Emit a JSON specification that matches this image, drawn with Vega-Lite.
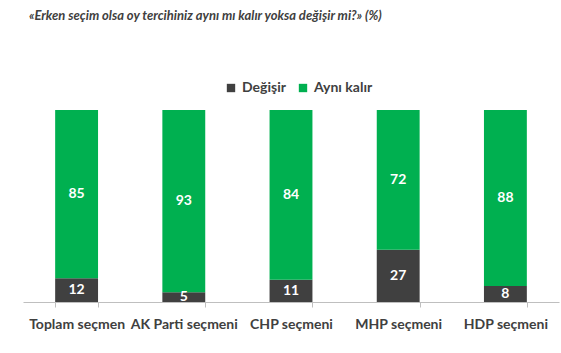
{
  "$schema": "https://vega.github.io/schema/vega-lite/v6.json",
  "width": 536,
  "height": 192,
  "padding": {"left": 23, "right": 2, "top": 10, "bottom": 5},
  "background": "white",
  "title": {
    "text": "«Erken seçim olsa oy tercihiniz aynı mı kalır yoksa değişir mi?» (%)",
    "anchor": "start",
    "dx": 6,
    "font": "Lato",
    "fontSize": 13,
    "fontStyle": "italic",
    "fontWeight": "bold",
    "color": "#404040",
    "offset": 58
  },
  "config": {"view": {"stroke": null}},
  "data": {
    "values": [
      {"segment": "Toplam seçmen", "series": "Değişir", "value": 12},
      {"segment": "Toplam seçmen", "series": "Aynı kalır", "value": 85},
      {"segment": "AK Parti seçmeni", "series": "Değişir", "value": 5},
      {"segment": "AK Parti seçmeni", "series": "Aynı kalır", "value": 93},
      {"segment": "CHP seçmeni", "series": "Değişir", "value": 11},
      {"segment": "CHP seçmeni", "series": "Aynı kalır", "value": 84},
      {"segment": "MHP seçmeni", "series": "Değişir", "value": 27},
      {"segment": "MHP seçmeni", "series": "Aynı kalır", "value": 72},
      {"segment": "HDP seçmeni", "series": "Değişir", "value": 8},
      {"segment": "HDP seçmeni", "series": "Aynı kalır", "value": 88}
    ]
  },
  "transform": [
    {"stack": "value", "groupby": ["segment"], "sort": [{"field": "series", "order": "descending"}], "offset": "normalize", "as": ["y0", "y1"]},
    {"calculate": "(datum.y0 + datum.y1) / 2", "as": "ymid"}
  ],
  "encoding": {
    "x": {
      "field": "segment",
      "type": "nominal",
      "sort": null,
      "scale": {"paddingInner": 0.6, "paddingOuter": 0.3},
      "axis": {
        "title": null,
        "labelAngle": 0,
        "labelFont": "Lato",
        "labelFontSize": 14,
        "labelFontWeight": "bold",
        "labelColor": "#404040",
        "labelPadding": 10,
        "domainColor": "#bfbfbf",
        "tickColor": "#bfbfbf",
        "tickSize": 5,
        "tickBand": "extent"
      }
    }
  },
  "layer": [
    {
      "mark": {"type": "bar"},
      "encoding": {
        "y": {"field": "y0", "type": "quantitative", "scale": {"domain": [0, 1]}, "axis": null},
        "y2": {"field": "y1"},
        "color": {
          "field": "series",
          "type": "nominal",
          "scale": {"domain": ["Değişir", "Aynı kalır"], "range": ["#404040", "#00b050"]},
          "legend": {
            "title": null,
            "orient": "none",
            "legendX": 201,
            "legendY": -29,
            "direction": "horizontal",
            "symbolType": "square",
            "symbolSize": 70,
            "symbolStrokeWidth": 0,
            "labelFont": "Lato",
            "labelFontSize": 14,
            "labelFontWeight": "bold",
            "labelColor": "#404040",
            "labelOffset": 4,
            "columnPadding": 10
          }
        }
      }
    },
    {
      "mark": {"type": "text", "color": "white", "font": "Lato", "fontWeight": "bold", "fontSize": 14},
      "encoding": {
        "y": {"field": "ymid", "type": "quantitative"},
        "text": {"field": "value", "type": "quantitative"}
      }
    }
  ]
}
